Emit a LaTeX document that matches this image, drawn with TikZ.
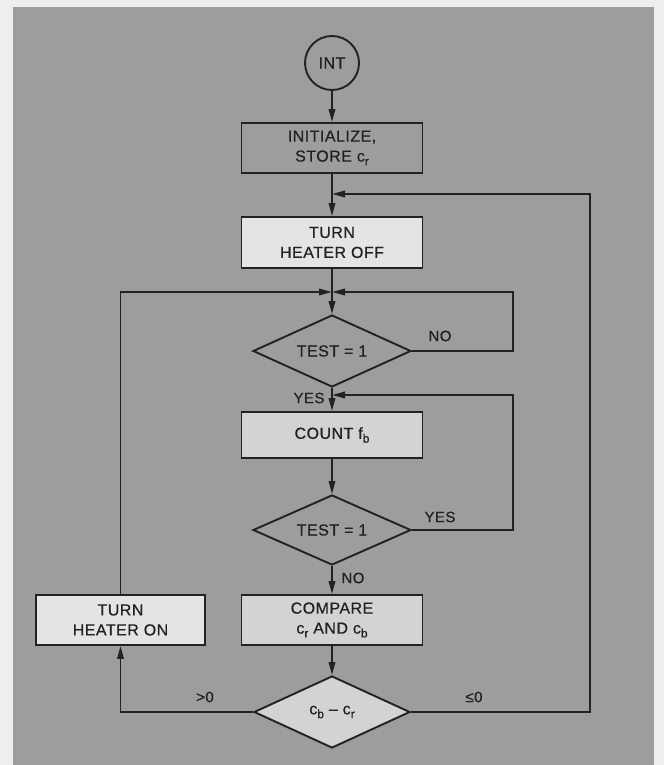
\documentclass[tikz,border=0pt]{standalone}
\usepackage{fontspec}
\setmainfont{Liberation Sans}[LetterSpace=3, FakeBold=0.6]
\usetikzlibrary{shapes.geometric,arrows.meta}
\definecolor{pagec}{HTML}{EEEEEE}
\definecolor{bgc}{HTML}{9D9D9D}
\definecolor{lightc}{HTML}{E4E4E4}
\definecolor{midc}{HTML}{D3D3D3}
\definecolor{inkc}{HTML}{222222}
\newcommand\lowsub[1]{\raisebox{-0.45ex}{\fontsize{12}{12}\selectfont #1}}
\tikzset{
  txt/.style={font=\fontsize{16}{20}\selectfont, text=inkc},
  box/.style={txt, draw=inkc, line width=1.9pt, rectangle, minimum width=181pt, minimum height=50pt, align=center, inner sep=0pt},
  dia/.style={txt, draw=inkc, line width=1.9pt, diamond, aspect=2.2, minimum width=158pt, minimum height=72pt, inner sep=0pt, fill=bgc},
  link/.style={draw=inkc, line width=1.9pt},
  arr/.style={link, -{Triangle[length=13pt,width=6.5pt]}},
  lbl/.style={font=\fontsize{15}{15}\selectfont, text=inkc, inner sep=1pt}
}
\begin{document}
\begin{tikzpicture}[x=1pt,y=-1pt]
\fill[pagec] (0,0) rectangle (664,765);
\fill[bgc] (13,7) rectangle (654,765);
\useasboundingbox (0,0) rectangle (664,765);

\node[txt, draw=inkc, line width=1.9pt, circle, minimum size=54pt, inner sep=0pt, fill=bgc] (int) at (332,63) {INT};
\node[box, fill=bgc] (init) at (332,148) {INITIALIZE,\\STORE c\lowsub{r}};
\node[box, fill=lightc, minimum height=51pt] (off) at (332,242.5) {TURN\\HEATER OFF};
\node[dia] (t1) at (332,351) {TEST = 1};
\node[box, fill=midc, minimum height=46pt] (count) at (332,435) {COUNT f\lowsub{b}};
\node[dia, minimum height=70pt] (t2) at (332,530) {TEST = 1};
\node[box, fill=midc] (comp) at (332,620) {COMPARE\\c\lowsub{r} AND c\lowsub{b}};
\node[dia, fill=midc, minimum width=156pt] (t3) at (332,712) {c\lowsub{b} -- c\lowsub{r}};
\node[box, fill=lightc, minimum width=169pt] (on) at (120.5,620) {TURN\\HEATER ON};

\coordinate (j1) at (332,194);
\coordinate (j2) at (332,292);
\coordinate (j3) at (332,395);
\coordinate (r1) at (590,194);
\coordinate (r2) at (513,292);
\coordinate (r3) at (513,395);

\draw[arr] (int) -- (init);
\draw[arr] (init) -- (off);
\draw[arr] (t3.east) -| (r1) -- (j1);
\draw[arr] (off) -- (t1);
\draw[arr] (on.north) |- (j2);
\draw[arr] (t1.east) -| (r2) -- (j2);
\draw[arr] (t1) -- (count);
\draw[arr] (t2.east) -| (r3) -- (j3);
\draw[arr] (count) -- (t2);
\draw[arr] (t2) -- (comp);
\draw[arr] (comp) -- (t3);
\draw[arr] (t3.west) -| (on.south);

\node[lbl] (lno1) at (440,336) {NO};
\node[lbl] (lyes1) at (309,398) {YES};
\node[lbl] (lyes2) at (440,517) {YES};
\node[lbl] (lno2) at (353,578) {NO};
\node[lbl] (lgt) at (205,697) {>0};
\node[lbl] (lle) at (474,697) {≤0};
\end{tikzpicture}
\end{document}
